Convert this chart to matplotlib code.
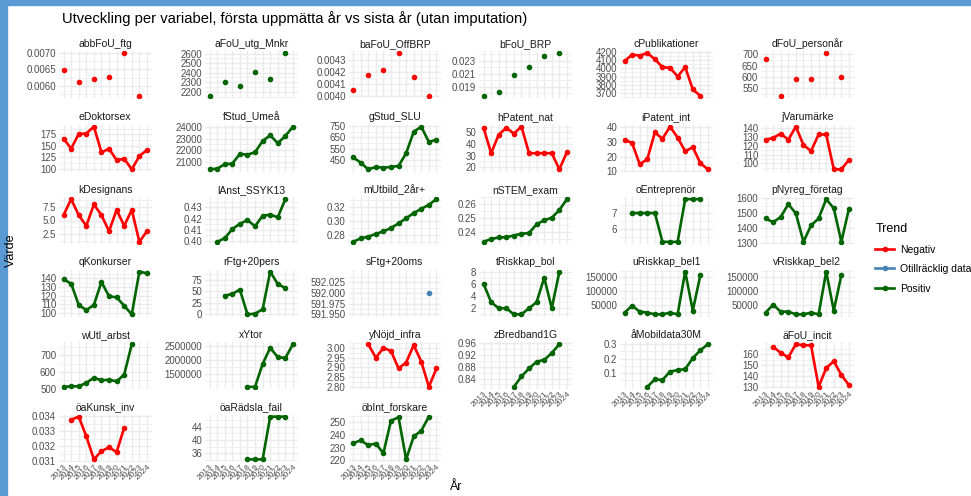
import numpy as np
import matplotlib
matplotlib.use("Agg")
import matplotlib.pyplot as plt
from matplotlib.lines import Line2D
from matplotlib.patches import Rectangle

plt.rcParams['font.family'] = ['Liberation Sans', 'DejaVu Sans']

years = list(range(2013, 2025))
N = None

# värden per variabel (2013..2024), None = saknas
abbFoU_ftg = [0.00647, N, 0.00611, N, 0.00621, N, 0.00627, N, 0.00700, N, 0.00569, N]
aFoU_utg_Mnkr = [2157, N, 2307, N, 2264, N, 2411, N, 2339, N, 2605, N]
baFoU_OffBRP = [0.004051, N, 0.004174, N, 0.00422, N, 0.004357, N, 0.00416, N, 0.0040, N]
bFoU_BRP = [0.01756, N, 0.0182, N, 0.0208, N, 0.0220, N, 0.0238, N, 0.0242, N]
cPublikationer = [4092, 4170, 4160, 4190, 4115, 4016, 4008, 3900, 4016, 3740, 3660, N]
dFoU_personar = [678, N, 515, N, 592, N, 592, N, 706, N, 600, N]
eDoktorsex = [166, 144, 176, 177, 192, 136, 144, 119, 122, 99, 128, 141]
fStud_Umea = [20310, 20370, 20760, 20820, 21660, 21600, 21810, 22800, 23300, 22610, 23240, 24060]
gStud_SLU = [474, 429, 369, 390, 384, 390, 399, 510, 699, 744, 609, 630]
hPatent_nat = [54, 32, 48, 54, 49, 55, 32, 32, 32, 32, 18, 33]
iPatent_int = [31.6, 29.2, 14.7, 18.2, 36.5, 32.2, 40.5, 33, 23.6, 26.4, 15.4, 11.2]
jVarumarke = [127, 129, 134, 127, 142, 121, 114, 133, 133, 93, 93, 104]
kDesignans = [6, 9, 6, 4, 8, 6, 3, 7, 4, 7, 1, 3]
lAnst_SSYK13 = [N, 0.399, 0.4023, 0.4105, 0.4153, 0.4186, 0.4131, 0.4225, 0.4235, 0.4212, 0.4375, N]
mUtbild_2ar = [0.270, 0.275, 0.2775, 0.2815, 0.285, 0.29, 0.2965, 0.304, 0.3115, 0.3175, 0.3235, 0.3315]
nSTEM_exam = [0.2328, 0.2349, 0.236, 0.2362, 0.2374, 0.2387, 0.2392, 0.2456, 0.2485, 0.2503, 0.2559, 0.2638]
oEntreprenor = [N, 7.0, 7.0, 7.0, 7.0, 5.2, 5.2, 5.2, 7.87, 7.87, 7.87, N]
pNyreg_foretag = [1466, 1441, 1476, 1561, 1500, 1310, 1420, 1466, 1595, 1534, 1310, 1532]
qKonkurser = [139, 134, 109, 103, 109, 136, 119, 118, 108, 98, 148, 146]
rFtg20pers = [N, N, 40.5, 44.2, 53.7, 0, 1.5, 10.9, 92.5, 65.6, 56.8, N]
sFtg20oms = [N, N, N, N, N, N, N, N, N, N, 592.0, N]
tRiskkap_bol = [6, 3, 2, 2, 1, 1, 2, 3, 7, 2, 8, N]
uRiskkap_bel1 = [21250, 46500, 25000, 21250, 15000, 15000, 21250, 15000, 171000, 28750, 158750, N]
vRiskkap_bel2 = [21250, 50000, 25000, 25000, 15000, 15000, 21250, 15000, 171000, 28750, 158750, N]
wUtl_arbst = [512, 515, 515, 536, 566, 551, 554, 545, 585, 766, N, N]
xYtor = [N, N, N, N, N, 1050000, 1050000, 1860000, 2430000, 2100000, 2070000, 2560000]
yNojd_infra = [N, N, 3.02, 2.95, 3.0, 2.985, 2.895, 2.925, 3.015, 2.93, 2.80, 2.895]
zBredband1G = [N, N, N, N, 0.812, 0.847, 0.874, 0.897, 0.903, 0.926, 0.956, N]
aMobildata30M = [N, N, N, 0.006, 0.058, 0.053, 0.111, 0.121, 0.128, 0.203, 0.257, 0.299]
aeFoU_incit = [N, 167, 161.5, 157.3, 169.5, 168.5, 168.5, 130, 147.4, 153.7, 141, 131.6]
oaKunsk_inv = [N, 0.03377, 0.03398, 0.03266, 0.03111, 0.03166, 0.03192, 0.0316, 0.03324, N, N, N]
oaRadsla_fail = [N, N, N, N, N, 34.1, 34.1, 34.1, 47.1, 47.1, 47.1, N]
obInt_forskare = [233.6, 235.7, 232, 233.3, 225.6, 251.3, 254, 220.8, 238.9, 243.4, 254.5, N]

names = ["abbFoU_ftg", "aFoU_utg_Mnkr", "baFoU_OffBRP", "bFoU_BRP", "cPublikationer", "dFoU_personår",
         "eDoktorsex", "fStud_Umeå", "gStud_SLU", "hPatent_nat", "iPatent_int", "jVarumärke",
         "kDesignans", "lAnst_SSYK13", "mUtbild_2år+", "nSTEM_exam", "oEntreprenör", "pNyreg_företag",
         "qKonkurser", "rFtg+20pers", "sFtg+20oms", "tRiskkap_bol", "uRiskkap_bel1", "vRiskkap_bel2",
         "wUtl_arbst", "xYtor", "yNöjd_infra", "zBredband1G", "åMobildata30M", "äFoU_incit",
         "öaKunsk_inv", "öaRädsla_fail", "öbInt_forskare"]
series = [abbFoU_ftg, aFoU_utg_Mnkr, baFoU_OffBRP, bFoU_BRP, cPublikationer, dFoU_personar,
          eDoktorsex, fStud_Umea, gStud_SLU, hPatent_nat, iPatent_int, jVarumarke,
          kDesignans, lAnst_SSYK13, mUtbild_2ar, nSTEM_exam, oEntreprenor, pNyreg_foretag,
          qKonkurser, rFtg20pers, sFtg20oms, tRiskkap_bol, uRiskkap_bel1, vRiskkap_bel2,
          wUtl_arbst, xYtor, yNojd_infra, zBredband1G, aMobildata30M, aeFoU_incit,
          oaKunsk_inv, oaRadsla_fail, obInt_forskare]
trend = ["Negativ", "Positiv", "Negativ", "Positiv", "Negativ", "Negativ",
         "Negativ", "Positiv", "Positiv", "Negativ", "Negativ", "Negativ",
         "Negativ", "Positiv", "Positiv", "Positiv", "Positiv", "Positiv",
         "Positiv", "Positiv", "Otillräcklig data", "Positiv", "Positiv", "Positiv",
         "Positiv", "Positiv", "Negativ", "Positiv", "Positiv", "Negativ",
         "Negativ", "Positiv", "Positiv"]
tick_labels = [
    ["0.0060", "0.0065", "0.0070"], ["2200", "2300", "2400", "2500", "2600"],
    ["0.0040", "0.0041", "0.0042", "0.0043"], ["0.019", "0.021", "0.023"],
    ["3700", "3800", "3900", "4000", "4100", "4200"], ["550", "600", "650", "700"],
    ["100", "125", "150", "175"], ["21000", "22000", "23000", "24000"],
    ["350", "450", "550", "650", "750"], ["20", "30", "40", "50"],
    ["10", "20", "30", "40"], ["100", "110", "120", "130", "140"],
    ["2.5", "5.0", "7.5"], ["0.40", "0.41", "0.42", "0.43"],
    ["0.28", "0.30", "0.32"], ["0.24", "0.25", "0.26"],
    ["6", "7"], ["1300", "1400", "1500", "1600"],
    ["100", "110", "120", "130", "140"], ["0", "25", "50", "75"],
    ["591.950", "591.975", "592.000", "592.025"], ["2", "4", "6", "8"],
    ["50000", "100000", "150000"], ["50000", "100000", "150000"],
    ["500", "600", "700"], ["1500000", "2000000", "2500000"],
    ["2.80", "2.85", "2.90", "2.95", "3.00"], ["0.84", "0.88", "0.92", "0.96"],
    ["0.1", "0.2", "0.3"], ["130", "140", "150", "160"],
    ["0.031", "0.032", "0.033", "0.034"], ["36", "40", "44"],
    ["220", "230", "240", "250"],
]

colors = {"Negativ": "#FF0000", "Otillräcklig data": "#4682B4", "Positiv": "#006400"}

W, H = 971, 496
fig = plt.figure(figsize=(W / 100, H / 100), dpi=100)

# ram från skärmklippet
fig.patches.append(Rectangle((0, 1 - 5 / H), 1, 5 / H, transform=fig.transFigure, color="#5B9BD5", zorder=0))
fig.patches.append(Rectangle((0, 0), 7 / W, 1, transform=fig.transFigure, color="#5B9BD5", zorder=0))

col_left = [59, 205, 348.5, 479, 620, 761]
row_top = [51, 124.5, 197, 269.5, 342, 414.5]
pw, ph = 92.5, 47
grid_c = "#EBEBEB"
txt_c = "#4D4D4D"

for i, name in enumerate(names):
    r, c = divmod(i, 6)
    ax = fig.add_axes([col_left[c] / W, 1 - (row_top[r] + ph) / H, pw / W, ph / H])
    y = np.array([np.nan if v is None else v for v in series[i]], dtype=float)
    col = colors[trend[i]]
    ax.plot(years, y, color=col, lw=1.9, marker="o", ms=3.0, zorder=3)

    lo, hi = np.nanmin(y), np.nanmax(y)
    if hi == lo:
        lo, hi = lo - 0.05, hi + 0.05
    pad = (hi - lo) * 0.05
    ticks = [float(s) for s in tick_labels[i]]
    ax.set_yticks(ticks, tick_labels[i])
    step = ticks[1] - ticks[0]
    minors = np.arange(ticks[0] - step / 2, ticks[-1] + step, step)
    ax.set_yticks(minors, minor=True)
    ax.set_ylim(lo - pad, hi + pad)
    ax.set_xlim(2012.4, 2024.6)
    ax.set_xticks(years, [str(v) for v in years])

    ax.grid(True, which="major", color=grid_c, lw=1.0, zorder=0)
    ax.grid(True, which="minor", axis="y", color=grid_c, lw=0.5, zorder=0)
    for s in ax.spines.values():
        s.set_visible(False)
    ax.tick_params(length=0, pad=2, labelsize=7, labelcolor=txt_c, which="both")
    bottom = (r == 5) if c < 3 else (r == 4)
    if bottom:
        ax.tick_params(axis="x", labelsize=6, pad=1)
        for lab in ax.get_xticklabels():
            lab.set_rotation(45)
            lab.set_ha("right")
            lab.set_rotation_mode("anchor")
    else:
        ax.tick_params(axis="x", labelbottom=False)
    ax.set_title(name, fontsize=7.5, color="#1A1A1A", pad=3)

fig.text(62 / W, 1 - 19 / H, "Utveckling per variabel, första uppmätta år vs sista år (utan imputation)",
         fontsize=10.6, va="center", ha="left", color="black")
fig.text(11 / W, 1 - 250 / H, "Värde", rotation=90, fontsize=9, va="center", ha="center")
fig.text(456 / W, 1 - 487 / H, "År", fontsize=9, va="center", ha="center")

handles = [Line2D([0], [0], color=colors[k], lw=1.9, marker="o", ms=3.0) for k in colors]
leg = fig.legend(handles, list(colors.keys()), title="Trend", loc="upper left",
                 bbox_to_anchor=(866 / W, 1 - 214 / H), frameon=False, fontsize=7.5,
                 title_fontsize=9, handlelength=1.8, labelspacing=0.9, handletextpad=0.6)
leg._legend_box.align = "left"

fig.savefig("out.png", dpi=100)
